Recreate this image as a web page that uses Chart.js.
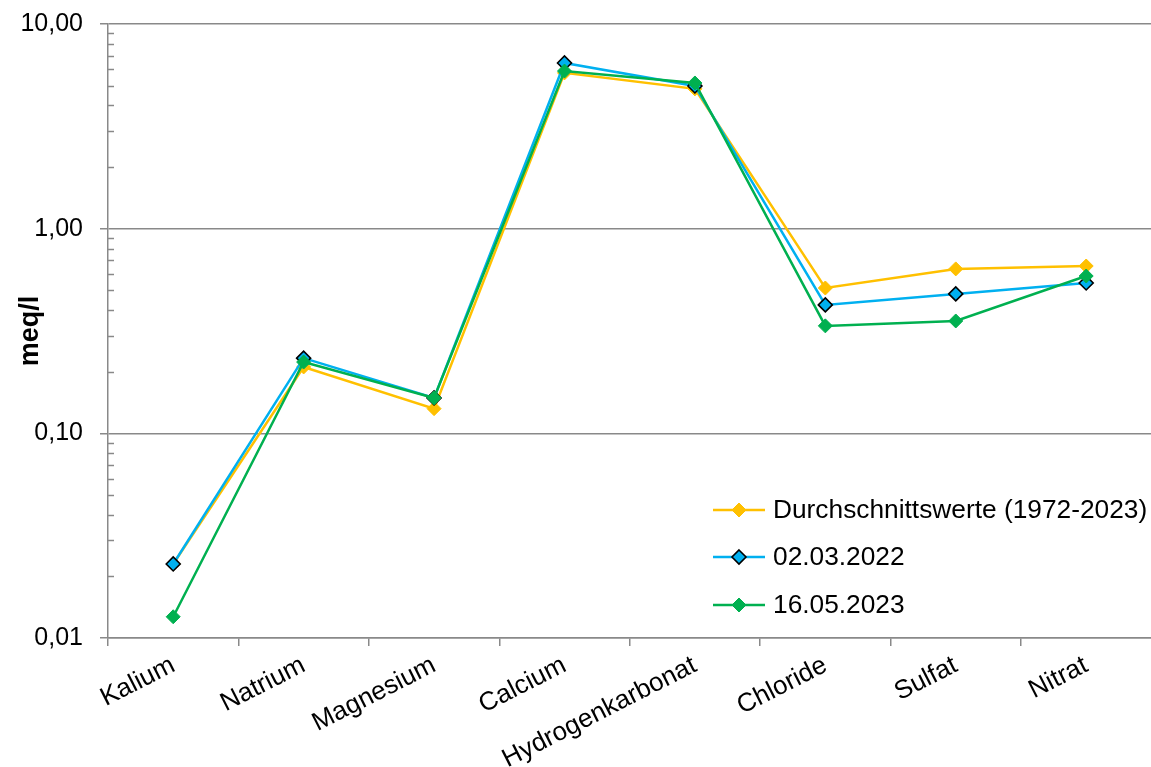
<!DOCTYPE html>
<html>
<head>
<meta charset="utf-8">
<script src="https://cdn.jsdelivr.net/npm/chart.js@4"></script>
<style>
  html, body { margin: 0; padding: 0; background: #fff; }
  #wrap { width: 1151px; height: 767px; overflow: hidden; }
</style>
</head>
<body>
<div id="wrap"><canvas id="chart" width="1160" height="767"></canvas></div>
<script>
// data
const categories = ["Kalium", "Natrium", "Magnesium", "Calcium", "Hydrogenkarbonat", "Chloride", "Sulfat", "Nitrat"];
const avgValues = [0.023, 0.211, 0.132, 5.77, 4.82, 0.513, 0.636, 0.657];
const values2022 = [0.023, 0.233, 0.149, 6.45, 4.98, 0.424, 0.480, 0.543];
const values2023 = [0.0127, 0.223, 0.149, 5.89, 5.15, 0.335, 0.354, 0.587];
const seriesNames = ["Durchschnittswerte (1972-2023)", "02.03.2022", "16.05.2023"];
const yTicks = [0.01, 0.1, 1, 10];
const yMinorTicks = [0.02,0.03,0.04,0.05,0.06,0.07,0.08,0.09,0.2,0.3,0.4,0.5,0.6,0.7,0.8,0.9,2,3,4,5,6,7,8,9];

const FONT = "'Liberation Sans', Arial, sans-serif";
const AXIS = "#898989";
const colors = ["#FFC000", "#00B0F0", "#00B050"];
const borders = ["#FFC000", "#000000", "#00B050"];

function makeSet(i, data, order) {
    return {
        label: seriesNames[i],
        data: data,
        borderColor: colors[i],
        backgroundColor: colors[i],
        pointBorderColor: borders[i],
        pointBackgroundColor: colors[i],
        pointBorderWidth: i === 1 ? 1.6 : 1,
        pointStyle: 'rectRot',
        pointRadius: 7,
        borderWidth: 2.5,
        tension: 0,
        order: order
    };
}

// minor log ticks drawn inward + legend inside plot
const extras = {
    id: 'extras',
    afterDraw(chart) {
        const ctx = chart.ctx;
        const y = chart.scales.y;
        const x0 = chart.chartArea.left;
        ctx.save();
        ctx.strokeStyle = AXIS;
        ctx.lineWidth = 1.5;
        yMinorTicks.forEach(v => {
            const py = Math.round(y.getPixelForValue(v)) + 0.5;
            ctx.beginPath();
            ctx.moveTo(x0, py);
            ctx.lineTo(x0 + 6, py);
            ctx.stroke();
        });
        // legend
        const lx = 713, tx = 773, rows = [510, 557, 605];
        chart.data.datasets.forEach((ds, i) => {
            const ry = rows[i];
            ctx.strokeStyle = ds.borderColor;
            ctx.lineWidth = 2.5;
            ctx.beginPath();
            ctx.moveTo(lx, ry);
            ctx.lineTo(lx + 52, ry);
            ctx.stroke();
            const cx = lx + 26, r = 7;
            ctx.beginPath();
            ctx.moveTo(cx, ry - r);
            ctx.lineTo(cx + r, ry);
            ctx.lineTo(cx, ry + r);
            ctx.lineTo(cx - r, ry);
            ctx.closePath();
            ctx.fillStyle = ds.pointBackgroundColor;
            ctx.fill();
            ctx.lineWidth = ds.pointBorderWidth;
            ctx.strokeStyle = ds.pointBorderColor;
            ctx.stroke();
            ctx.fillStyle = '#000';
            ctx.font = "26.3px " + FONT;
            ctx.textBaseline = 'middle';
            ctx.textAlign = 'left';
            ctx.fillText(ds.label, tx, ry + 1);
        });
        ctx.restore();
    }
};

new Chart(document.getElementById('chart'), {
    type: 'line',
    data: {
        labels: categories,
        datasets: [
            makeSet(0, avgValues, 3),
            makeSet(1, values2022, 2),
            makeSet(2, values2023, 1)
        ]
    },
    options: {
        responsive: false,
        animation: false,
        layout: { padding: { top: 24, right: 0, left: 0, bottom: 0 } },
        plugins: { legend: { display: false }, tooltip: { enabled: false } },
        scales: {
            x: {
                offset: true,
                grid: {
                    offset: true,
                    drawOnChartArea: false,
                    color: AXIS,
                    lineWidth: 1.5,
                    tickLength: 8
                },
                border: { color: AXIS, width: 1.5 },
                ticks: {
                    color: '#000',
                    font: { family: FONT, size: 26 },
                    minRotation: 27,
                    maxRotation: 27,
                    padding: 4,
                    autoSkip: false
                },
                afterFit(scale) {
                    scale.height = 129;
                }
            },
            y: {
                type: 'logarithmic',
                min: 0.01,
                max: 10,
                afterBuildTicks(scale) {
                    scale.ticks = yTicks.map(v => ({ value: v, major: true }));
                },
                afterFit(scale) {
                    scale.width = 108;
                    scale.paddingTop = 0;
                    scale.paddingBottom = 0;
                },
                grid: { color: AXIS, lineWidth: 1.5, tickLength: 8 },
                border: { color: AXIS, width: 1.5 },
                ticks: {
                    color: '#000',
                    font: { family: FONT, size: 25 },
                    padding: 17,
                    callback: v => Number(v).toFixed(2).replace('.', ',')
                },
                title: {
                    display: true,
                    text: 'meq/l',
                    color: '#000',
                    font: { family: FONT, size: 27, weight: 'bold' },
                    padding: { top: 14, bottom: 0 }
                }
            }
        }
    },
    plugins: [extras]
});
</script>
</body>
</html>
